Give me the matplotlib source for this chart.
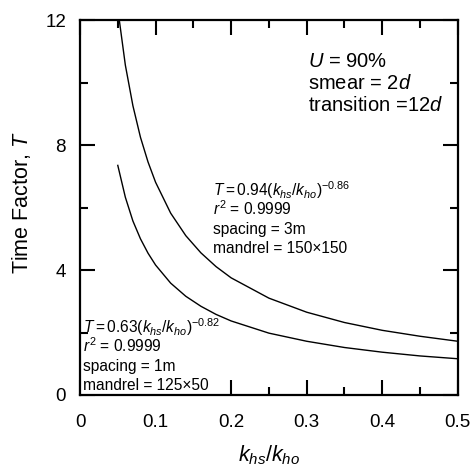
import matplotlib
matplotlib.use("Agg")
import matplotlib.pyplot as plt

plt.rcParams['font.family'] = ['Liberation Sans', 'DejaVu Sans']
plt.rcParams['mathtext.fontset'] = 'custom'
plt.rcParams['mathtext.rm'] = 'Liberation Sans'
plt.rcParams['mathtext.it'] = 'Liberation Sans:italic'
plt.rcParams['mathtext.default'] = 'regular'

# values
ratio_3m = [0.052, 0.06, 0.07, 0.08, 0.09, 0.10, 0.12, 0.14, 0.16, 0.18,
            0.20, 0.25, 0.30, 0.35, 0.40, 0.45, 0.50]
T_3m = [12.0, 10.56, 9.26, 8.25, 7.46, 6.81, 5.82, 5.10, 4.55, 4.11,
        3.75, 3.10, 2.65, 2.32, 2.07, 1.88, 1.72]

ratio_1m = [0.05, 0.06, 0.07, 0.08, 0.09, 0.10, 0.12, 0.14, 0.16, 0.18,
            0.20, 0.25, 0.30, 0.35, 0.40, 0.45, 0.50]
T_1m = [7.35, 6.33, 5.57, 5.00, 4.54, 4.16, 3.58, 3.16, 2.84, 2.58,
        2.37, 1.98, 1.72, 1.52, 1.37, 1.25, 1.16]

xticks = [0, 0.1, 0.2, 0.3, 0.4, 0.5]
xtick_labels = ['0', '0.1', '0.2', '0.3', '0.4', '0.5']
yticks = [0, 4, 8, 12]

cond_lines = ['$\\mathit{U}$ = 90%', 'smear = 2$\\mathit{d}$',
              'transition =12$\\mathit{d}$']
fit_3m_lines = ['$\\mathit{T}=0.94(\\mathit{k_{hs}}/\\mathit{k_{ho}})^{-0.86}$',
                '$\\mathit{r}^2$ = 0.9999', 'spacing = 3m', 'mandrel = 150×150']
fit_1m_lines = ['$\\mathit{T}=0.63(\\mathit{k_{hs}}/\\mathit{k_{ho}})^{-0.82}$',
                '$\\mathit{r}^2$ = 0.9999', 'spacing = 1m', 'mandrel = 125×50']

fig = plt.figure(figsize=(4.72, 4.68), dpi=100)
ax = fig.add_axes([0.1695, 0.156, 0.8005, 0.801])

ax.plot(ratio_3m, T_3m, color='black', lw=1.0)
ax.plot(ratio_1m, T_1m, color='black', lw=1.0)

ax.set_xlim(0, 0.5)
ax.set_ylim(0, 12)
ax.set_xticks(xticks)
ax.set_xticklabels(xtick_labels)
ax.set_xticks([0.05, 0.15, 0.25, 0.35, 0.45], minor=True)
ax.set_yticks(yticks)
ax.set_yticks([2, 6, 10], minor=True)

ax.tick_params(which='both', direction='in', top=True, right=True, width=1.5,
               labelsize=13.5)
ax.tick_params(which='major', length=11)
ax.tick_params(which='minor', length=5.5)
ax.tick_params(axis='x', pad=14)
ax.tick_params(axis='y', pad=10)

for sp in ax.spines.values():
    sp.set_linewidth(1.6)
    sp.set_zorder(5)

ax.set_ylabel('Time Factor, $\\mathit{T}$', fontsize=15.5)
ax.yaxis.set_label_coords(-0.125, 0.513)
ax.set_xlabel('$\\mathit{k_{hs}/k_{ho}}$', fontsize=15.5)
ax.xaxis.set_label_coords(0.5, -0.128)

# condition block, upper right
for i, s in enumerate(cond_lines):
    ax.text(0.3016, 10.5 - 0.70 * i, s, fontsize=14.5, va='baseline',
            ha='left')

# fit labels
for i, s in enumerate(fit_3m_lines):
    ax.text(0.176, 6.37 - 0.61 * i, s, fontsize=11.2, va='baseline',
            ha='left', zorder=3)

# the last line of the lower label sits on a white patch hiding the ticks
for i, s in enumerate(fit_1m_lines):
    kw = {}
    if i == len(fit_1m_lines) - 1:
        kw['bbox'] = dict(facecolor='white', edgecolor='none', pad=2.5)
    ax.text(0.004, 1.98 - 0.607 * i, s, fontsize=11.2, va='baseline',
            ha='left', zorder=3, **kw)

fig.savefig('out.png', dpi=100)
